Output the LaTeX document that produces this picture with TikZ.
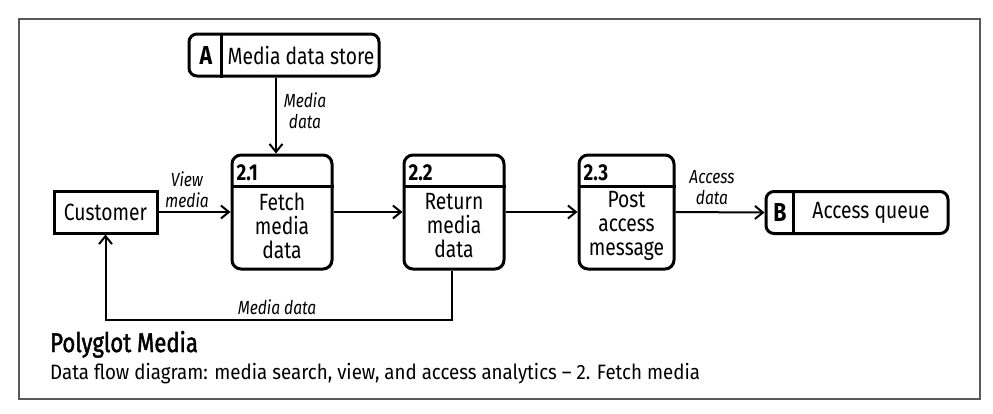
\documentclass[tikz,border=0pt]{standalone}
\usepackage{fontspec}
\setmainfont{Fira Sans}[FakeStretch=0.82]
\newfontfamily\subfont{Fira Sans}[FakeStretch=0.9]
\newfontfamily\titlefont{Fira Sans}[FakeStretch=0.82,FakeBold=1.6]
\usetikzlibrary{arrows.meta,positioning}
\begin{document}
\begin{tikzpicture}[x=1pt,y=-1pt,
  box/.style={draw,line width=3pt,inner sep=0pt},
  proc/.style={box,rounded corners=9pt,minimum width=100pt,minimum height=114pt},
  store/.style={box,rounded corners=8pt,minimum height=42pt},
  arr/.style={line width=2pt,-{Straight Barb[length=8pt,width=13pt,line width=2pt]}},
  txt/.style={font=\fontsize{23.5}{24}\selectfont,inner sep=0pt,align=center},
  num/.style={font=\fontsize{23}{24}\selectfont\bfseries,inner sep=0pt,anchor=west},
  lbl/.style={font=\fontsize{19}{21}\selectfont\itshape,inner sep=0pt,align=center},
]
\useasboundingbox (0,0) rectangle (993,413);
\fill[white] (0,0) rectangle (993,413);
\draw[line width=1.3pt,black!65] (19,19) rectangle (980,399);

% data store A
\node[store,minimum width=190pt] (sa) at (284,55) {};
\draw[line width=3pt] ([xshift=34pt]sa.north west) -- ([xshift=34pt]sa.south west);
\node[txt,font=\fontsize{26}{26}\selectfont\bfseries] (saA) at (206,55) {A};
\node[txt] (saT) at (301,55) {Media data store};

% customer
\node[box,minimum width=103pt,minimum height=42pt] (cust) at (105.5,212) {};
\node[txt] (custT) at (105.5,212) {Customer};

% processes
\node[proc] (p21) at (282,212) {};
\node[proc] (p22) at (454,212) {};
\node[proc,minimum width=95pt] (p23) at (626.5,212) {};
\foreach \p in {p21,p22,p23}{
  \draw[line width=3pt] ([yshift=-33pt]\p.north west) -- ([yshift=-33pt]\p.north east);
}
\node[num] (n21) at ([xshift=6pt,yshift=-19pt]p21.north west) {2.1};
\node[num] (n22) at ([xshift=6pt,yshift=-19pt]p22.north west) {2.2};
\node[num] (n23) at ([xshift=6pt,yshift=-19pt]p23.north west) {2.3};
\node[txt] (t21) at (282,226) {Fetch\\media\\data};
\node[txt] (t22) at (454,226) {Return\\media\\data};
\node[txt] (t23) at (626.5,226) {Post\\access\\message};

% data store B
\node[store,minimum width=182pt] (sb) at (857,212.5) {};
\draw[line width=3pt] ([xshift=29pt]sb.north west) -- ([xshift=29pt]sb.south west);
\node[txt,font=\fontsize{26}{26}\selectfont\bfseries] (sbB) at (780,212.5) {B};
\node[txt] (sbT) at (871,212.5) {Access queue};

% connectors
\draw[arr] ([xshift=-8pt]sa.south) -- ([xshift=-6pt]p21.north);
\node[lbl] (l1) at (305,110.5) {Media\\data};
\draw[arr] (cust.east) -- (p21.west);
\node[lbl] (l2) at (187,190) {View\\media};
\draw[arr] (p21.east) -- (p22.west);
\draw[arr] (p22.east) -- (p23.west);
\draw[arr] (p23.east) -- (sb.west);
\node[lbl] (l3) at (712,187.5) {Access\\data};
\coordinate (c1) at (452,320);
\coordinate (c2) at (105.5,320);
\draw[arr] ([xshift=-2pt]p22.south) -- (c1) -- (c2) -- (cust.south);
\node[lbl] (l4) at (277,307) {Media data};

% caption
\node[inner sep=0pt,anchor=base west,font=\fontsize{27}{30}\titlefont] (title) at (50,352) {Polyglot Media};
\node[inner sep=0pt,anchor=base west,font=\fontsize{20.8}{22}\subfont] (sub) at (50,379) {Data flow diagram: media search, view, and access analytics – 2. Fetch media};
\end{tikzpicture}
\end{document}
